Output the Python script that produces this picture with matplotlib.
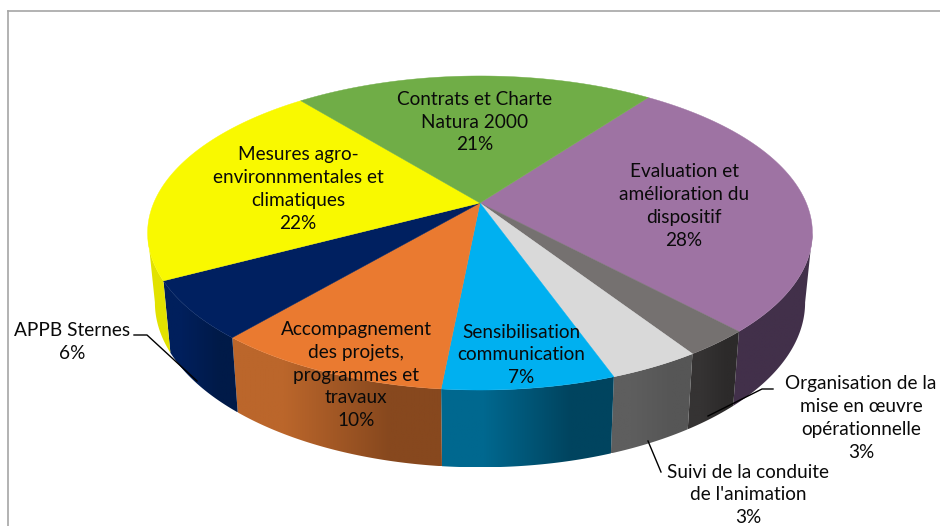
import numpy as np
import matplotlib
matplotlib.use("Agg")
import matplotlib.pyplot as plt
from matplotlib.colors import to_rgb
from matplotlib.patches import Polygon

plt.rcParams['font.family'] = ['Lato', 'DejaVu Sans']

labels = ["Evaluation et\namélioration du\ndispositif",
          "Organisation de la\nmise en œuvre\nopérationnelle",
          "Suivi de la conduite\nde l'animation",
          "Sensibilisation\ncommunication",
          "Accompagnement\ndes projets,\nprogrammes et\ntravaux",
          "APPB Sternes",
          "Mesures agro-\nenvironnmentales et\nclimatiques",
          "Contrats et Charte\nNatura 2000"]
percents = [28, 3, 3, 7, 10, 6, 22, 21]
values = [27.9, 2.75, 3.75, 7.0, 9.7, 6.0, 21.9, 21.0]
top_colors = ["#9e73a3", "#757170", "#d9d9d9", "#00b0f0", "#ea7a30", "#002060", "#f9f900", "#70ad47"]
side_left = ["#42304a", "#353333", "#5e5e5e", "#00688f", "#bb662b", "#001f5c", "#e2e200", "#4d7a30"]
side_right = ["#42304a", "#2c2a2a", "#565656", "#00445f", "#87481e", "#001a48", "#e2e200", "#4d7a30"]
label_x = [684, 861, 748, 521, 356, 72, 298, 475]
label_y = [206, 418, 495, 355, 375, 342, 189, 122]

start = 36.5  # degrees clockwise from the back of the pie
cx, cy = 480., 203.
r, s, k = 326.3, 151.3, 0.191  # perspective of the top face
front_from, front_to = 101, 259  # partie visible du cote


def top_face(a):
    u = np.sin(np.radians(a))
    v = np.cos(np.radians(a))
    return cx + r*u/(1 + k*v), cy - s*v/(1 + k*v)


def bottom_face(a):
    x, y = top_face(a)
    return cx + 0.978*(x - cx), 1.05*y + 57.8


fig = plt.figure(figsize=(9.4, 5.26), dpi=100)
ax = fig.add_axes([0, 0, 1, 1])
ax.axis("off")

edges = start + np.cumsum([0] + values)*3.6

# cotes du camembert, degrade horizontal coupe sur la forme de la tranche
for i in range(len(values)):
    a0 = max(edges[i], front_from)
    a1 = min(edges[i+1], front_to)
    if a1 <= a0:
        continue
    aa = np.linspace(a0, a1, 80)
    x1, y1 = top_face(aa)
    x2, y2 = bottom_face(aa)
    xs = np.r_[x1, x2[::-1]]
    ys = np.r_[y1, y2[::-1]]
    poly = Polygon(np.c_[xs, ys], closed=True, facecolor="none", edgecolor="none", transform=ax.transData)
    ax.add_patch(poly)
    grad = np.array([[to_rgb(side_left[i]), to_rgb(side_right[i])]])
    im = ax.imshow(grad, extent=[xs.min(), xs.max(), ys.max(), ys.min()], aspect="auto",
                   interpolation="bilinear", zorder=2)
    im.set_clip_path(poly)

ax.set_xlim(0, 940)
ax.set_ylim(526, 0)

# dessus
for i in range(len(values)):
    aa = np.linspace(edges[i], edges[i+1], 80)
    x, y = top_face(aa)
    ax.fill(np.r_[cx, x], np.r_[cy, y], color=top_colors[i], lw=0.3, zorder=3)

for i in range(len(values)):
    ax.text(label_x[i], label_y[i], labels[i] + "\n" + str(percents[i]) + "%", ha="center", va="center",
            fontsize=13.7, color="#0a0a0a", linespacing=1.42, zorder=5)

# lignes de rappel
ax.plot([134, 147, 197], [335, 335, 381], color="black", lw=1, zorder=4)
ax.plot([773, 762, 708], [389, 389, 416], color="black", lw=1, zorder=4)
ax.plot([648, 661], [441, 472], color="black", lw=1, zorder=4)

# cadre
ax.plot([7.5, 7.5], [526, 10.5], color="#a6a6a6", lw=1.2, zorder=1)
ax.plot([7.5, 940], [10.5, 10.5], color="#a6a6a6", lw=1.2, zorder=1)

fig.savefig("out.png", dpi=100)
